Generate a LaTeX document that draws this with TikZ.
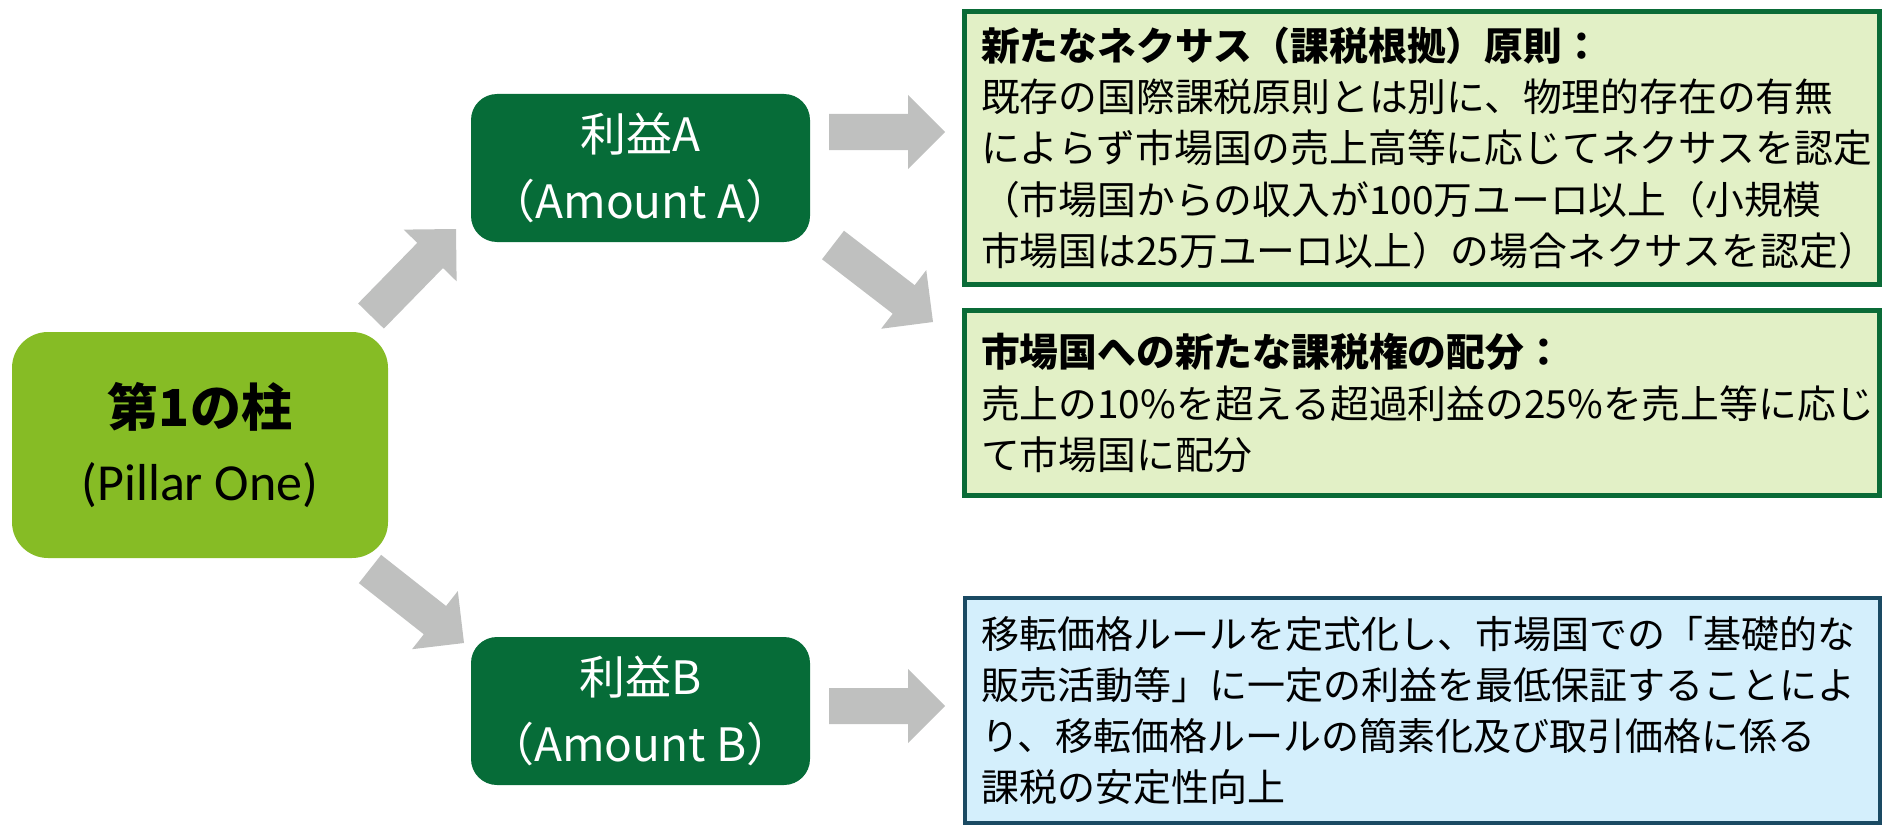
\documentclass[tikz,border=0pt]{standalone}
\usepackage{fontspec}
\setmainfont{Noto Sans CJK JP}
\newfontfamily\latinfont{Carlito}
\usetikzlibrary{calc}
\definecolor{pillargreen}{HTML}{86BC25}
\definecolor{darkgreen}{HTML}{066C38}
\definecolor{palegreen}{HTML}{E2F0C6}
\definecolor{boxgreen}{HTML}{0A6B37}
\definecolor{paleblue}{HTML}{D4EFFC}
\definecolor{boxblue}{HTML}{1A4A63}
\definecolor{arrowgray}{HTML}{BFC0BF}
\tikzset{
  gblock/.style={fill=arrowgray, draw=none, to path={
    -- ($(\tikztostart)!9pt!90:(\tikztotarget)$)
    -- ($(\tikztotarget)!18.5pt!(\tikztostart)!9pt!-90:(\tikztostart)$)
    -- ($(\tikztotarget)!18.5pt!(\tikztostart)!18.5pt!-90:(\tikztostart)$)
    -- (\tikztotarget)
    -- ($(\tikztotarget)!18.5pt!(\tikztostart)!18.5pt!90:(\tikztostart)$)
    -- ($(\tikztotarget)!18.5pt!(\tikztostart)!9pt!90:(\tikztostart)$)
    -- ($(\tikztostart)!9pt!-90:(\tikztotarget)$)
    -- cycle}},
  pillar/.style={fill=pillargreen, rounded corners=18pt, minimum width=188pt, minimum height=113pt, align=center, inner sep=0pt, text=black},
  amount/.style={fill=darkgreen, rounded corners=13pt, minimum width=169.5pt, minimum height=74pt, align=center, inner sep=0pt, text=white, font=\fontsize{23}{33.5}\selectfont},
  infobox/.style={line width=2.5pt, minimum width=457.5pt, text width=441pt, align=left, inner sep=0pt},
  greenbox/.style={infobox, draw=boxgreen, fill=palegreen, font=\fontsize{19.4}{25.6}\selectfont},
  bluebox/.style={infobox, line width=2pt, draw=boxblue, fill=paleblue, font=\fontsize{19}{25.5}\selectfont}
}
\begin{document}
\begin{tikzpicture}[x=0.5pt,y=-0.5pt]
\useasboundingbox (0,0) rectangle (1888,824);
\begin{scope}
\clip (0,0) rectangle (1888,824);
\node[pillar] (p1) at (200,445) {{\bfseries\fontsize{25.5}{30}\selectfont 第1の柱}\\[14.5pt]{\latinfont\fontsize{26}{30}\selectfont (Pillar One)}};
\node[amount] (amA) at (640.5,168) {利益A\\（Amount A）};
\node[amount] (amB) at (640.5,711) {利益B\\（Amount B）};
\node[greenbox, minimum height=136.5pt] (nexus) at (1422,148) {\textbf{新たなネクサス（課税根拠）原則：}\\既存の国際課税原則とは別に、物理的存在の有無\\によらず市場国の売上高等に応じてネクサスを認定\\（市場国からの収入が100万ユーロ以上（小規模\\市場国は25万ユーロ以上）の場合ネクサスを認定）};
\node[greenbox, minimum height=92.5pt] (alloc) at (1422,403) {\textbf{市場国への新たな課税権の配分：}\\売上の10\%を超える超過利益の25\%を売上等に応じ\\て市場国に配分};
\node[bluebox, minimum height=112.5pt] (tp) at (1422,710.5) {移転価格ルールを定式化し、市場国での「基礎的な\\販売活動等」に一定の利益を最低保証することによ\\り、移転価格ルールの簡素化及び取引価格に係る\\課税の安定性向上};
\end{scope}
\coordinate (a1s) at (371,316); \coordinate (a1e) at (456,229);
\coordinate (a2s) at (833,245); \coordinate (a2e) at (933,322);
\coordinate (a3s) at (370,569); \coordinate (a3e) at (464,643);
\coordinate (a4s) at (829,132); \coordinate (a4e) at (945,132);
\coordinate (a5s) at (829,706); \coordinate (a5e) at (945,706);
\path[gblock] (a1s) to (a1e);
\path[gblock] (a2s) to (a2e);
\path[gblock] (a3s) to (a3e);
\path[gblock] (a4s) to (a4e);
\path[gblock] (a5s) to (a5e);
\end{tikzpicture}
\end{document}
